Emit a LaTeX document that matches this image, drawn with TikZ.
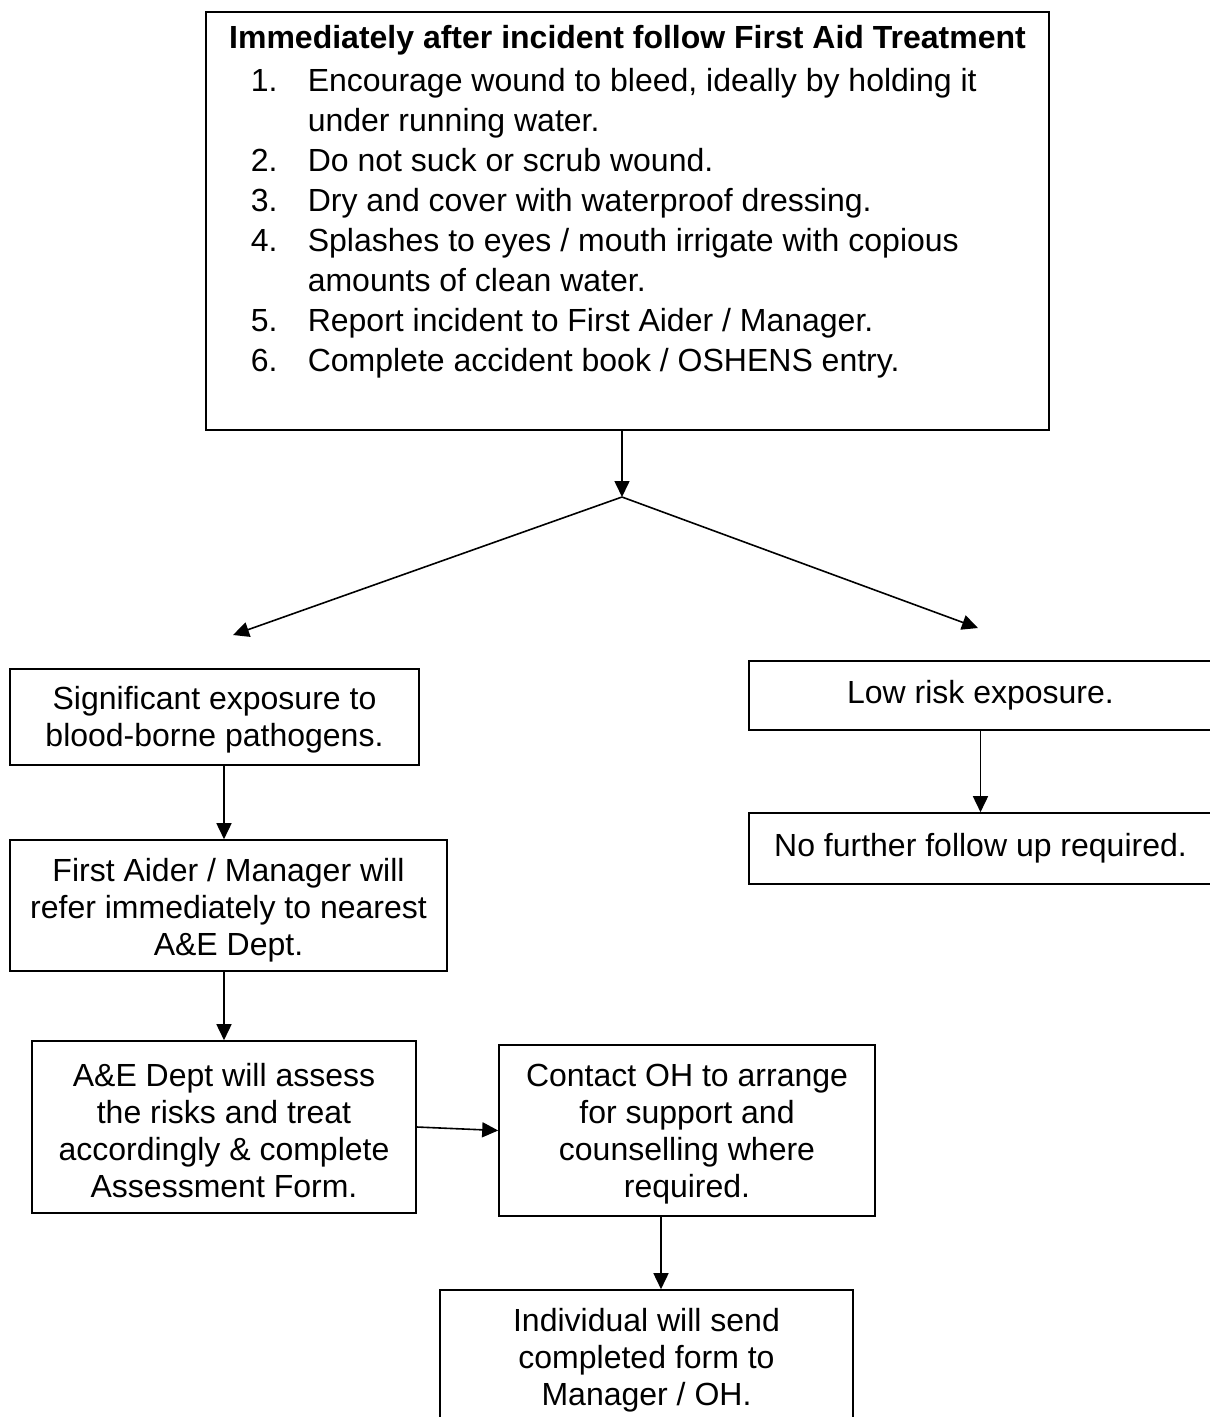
\documentclass[tikz,border=0pt]{standalone}
\usepackage{fontspec}
\setmainfont{Liberation Sans}
\usetikzlibrary{arrows.meta, positioning, calc}

\begin{document}
\begin{tikzpicture} [x = 1pt, y = -1pt, line width = 1.6pt, >= {Triangle[length=16pt, width=15pt]},
  txt/.style = {font = \fontsize{32}{40}\selectfont},
  box/.style = {draw, font = \fontsize{32}{37}\selectfont, align = center},
  lines/.style = {text height = #1, text depth = 0pt}]

\useasboundingbox (0,0) rectangle (1210,1417);
\clip (0,0) rectangle (1210,1417);

\node [box, minimum width = 843pt, minimum height = 418pt] (aid) at (627.5,221) {};
\node [font = \fontsize{32}{40}\selectfont\bfseries] (title) at (627.5,40) {Immediately after incident follow First Aid Treatment};
\node [txt, anchor = north west, inner sep = 0pt] (steps) at (250,63) {%
  \begin{tabular}{@{}p{57pt}@{}p{720pt}@{}}
  1. & Encourage wound to bleed, ideally by holding it\newline under running water.\\
  2. & Do not suck or scrub wound.\\
  3. & Dry and cover with waterproof dressing.\\
  4. & Splashes to eyes / mouth irrigate with copious\newline amounts of clean water.\\
  5. & Report incident to First Aider / Manager.\\
  6. & Complete accident book / OSHENS entry.
  \end{tabular}};

\coordinate (split) at (622,497);
\coordinate (sigin) at (233,635);
\coordinate (lowin) at (978,628);

\draw [->] (split |- aid.south) -- (split);
\draw [->] (split) -- (sigin);
\draw [->] (split) -- (lowin);

\node [box, lines = 58pt, minimum width = 409pt, minimum height = 96pt] (sig) at (214.5,717) {Significant exposure to\\blood-borne pathogens.};
\node [box, minimum width = 463pt, minimum height = 69pt] (low) at (980.5,695.5) {Low risk exposure.};
\node [box, minimum width = 463pt, minimum height = 71pt] (nofu) at (980.5,848.5) {No further follow up required.};
\node [box, lines = 99pt, minimum width = 437pt, minimum height = 131pt] (aider) at (228.5,905.5) {First Aider / Manager will\\refer immediately to nearest\\A\&E Dept.};
\node [box, lines = 140pt, minimum width = 384pt, minimum height = 172pt] (ae) at (224,1127) {A\&E Dept will assess\\the risks and treat\\accordingly \& complete\\Assessment Form.};
\node [box, lines = 133pt, minimum width = 376pt, minimum height = 171pt] (oh) at (687,1130.5) {Contact OH to arrange\\for support and\\counselling where\\required.};
\node [box, lines = 99pt, minimum width = 413pt, minimum height = 131pt] (ind) at (646.5,1355.5) {Individual will send\\completed form to\\Manager / OH.};

\draw [->] (low) -- (nofu);
\draw [->] (sig.south -| ae.north) -- (aider.north -| ae.north);
\draw [->] (aider.south -| ae.north) -- (ae.north);
\draw [->] (ae.east) -- (oh.west);
\draw [->] ([xshift=-26pt]oh.south) -- ([xshift=-26pt]oh.south |- ind.north);

\end{tikzpicture}
\end{document}
